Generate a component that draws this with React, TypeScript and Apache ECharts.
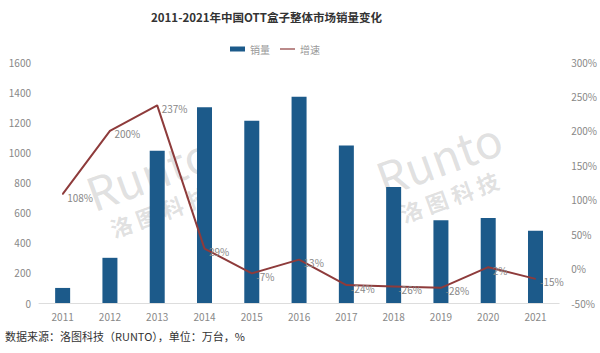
import React, { useEffect, useRef } from "react";
import * as echarts from "echarts";

const years = ["2011", "2012", "2013", "2014", "2015", "2016", "2017", "2018", "2019", "2020", "2021"];
const sales = [100, 300, 1010, 1300, 1210, 1370, 1045, 770, 550, 565, 480];
const growth = [108, 200, 237, 29, -7, 13, -24, -26, -28, 2, -15];
const titleText = "2011-2021年中国OTT盒子整体市场销量变化";
const sourceText = "数据来源：洛图科技（RUNTO），单位：万台，%";

export default function App() {
  const ref = useRef<HTMLDivElement>(null);
  useEffect(() => {
    if (!ref.current) return;
    const chart = echarts.init(ref.current, null, { renderer: "svg" });
    const font = "'Noto Sans CJK SC', 'Noto Sans', sans-serif";
    const wm = "rgba(150,150,150,0.3)";
    chart.setOption({
      animation: false,
      backgroundColor: "#fff",
      textStyle: { fontFamily: font },
      title: {
        text: titleText,
        left: 146,
        top: 6,
        textStyle: { fontSize: 11.5, fontWeight: "bold", color: "#333", fontFamily: font },
      },
      legend: {
        top: 39,
        left: 225,
        itemWidth: 15,
        itemHeight: 5,
        itemGap: 10,
        textStyle: { color: "#999", fontSize: 10, fontFamily: font },
        data: [
          { name: "销量", icon: "rect" },
          { name: "增速", icon: "path://M0,0 L20,0 L20,1.6 L0,1.6 Z", itemStyle: { color: "#8E3B3B" } },
        ],
      },
      grid: { left: 39, right: 37, top: 62, bottom: 50 },
      xAxis: {
        type: "category",
        data: years,
        axisLine: { lineStyle: { color: "#ddd" } },
        axisTick: { show: false },
        axisLabel: { color: "#888", fontSize: 10, margin: 8 },
      },
      yAxis: [
        {
          type: "value",
          min: 0,
          max: 1600,
          interval: 200,
          splitLine: { show: false },
          axisLine: { show: false },
          axisTick: { show: false },
          axisLabel: { color: "#888", fontSize: 10, margin: 8, formatter: (v: number) => String(v) },
        },
        {
          type: "value",
          min: -50,
          max: 300,
          interval: 50,
          splitLine: { show: false },
          axisLine: { show: false },
          axisTick: { show: false },
          axisLabel: { color: "#888", fontSize: 10, formatter: "{value}%", margin: 12 },
        },
      ],
      graphic: [
        {
          type: "group",
          x: 150,
          y: 205,
          rotation: Math.PI / 9,
          children: [
            { type: "text", x: -55, y: -55, style: { text: "Runto", fontSize: 46, fill: wm, fontFamily: font } },
            { type: "text", x: -45, y: -2, style: { text: "洛 图 科 技", fontSize: 22, fontWeight: "bold", fill: wm, fontFamily: font } },
          ],
        },
        {
          type: "group",
          x: 440,
          y: 190,
          rotation: Math.PI / 9,
          children: [
            { type: "text", x: -55, y: -55, style: { text: "Runto", fontSize: 46, fill: wm, fontFamily: font } },
            { type: "text", x: -45, y: -2, style: { text: "洛 图 科 技", fontSize: 22, fontWeight: "bold", fill: wm, fontFamily: font } },
          ],
        },
        {
          type: "text",
          left: 5,
          top: 330,
          style: { text: sourceText, fontSize: 11, fill: "#333", fontFamily: font },
        },
      ],
      series: [
        {
          name: "销量",
          type: "bar",
          data: sales,
          barWidth: 15,
          itemStyle: { color: "#1C5A8A" },
          yAxisIndex: 0,
        },
        {
          name: "增速",
          type: "line",
          data: growth,
          yAxisIndex: 1,
          symbol: "circle",
          symbolSize: 1,
          showSymbol: true,
          lineStyle: { color: "#8E3B3B", width: 2 },
          itemStyle: { color: "#8E3B3B" },
          label: {
            show: true,
            position: "right",
            formatter: "{c}%",
            color: "#888",
            fontSize: 10,
            distance: 4,
            offset: [0, 3],
          },
        },
      ],
    });
    return () => chart.dispose();
  }, []);
  return <div ref={ref} style={{ position: "absolute", left: 0, top: 0, width: 600, height: 353 }} />;
}
